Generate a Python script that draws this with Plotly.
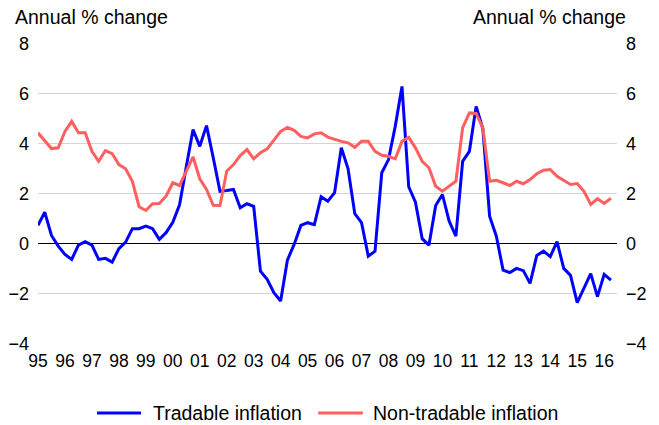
import plotly.graph_objects as go

# quarterly, 1995Q1 to 2016Q2
quarters = [f"{y}Q{q}" for y in range(1995, 2017) for q in range(1, 5)][:86]

tradable = [
    0.73, 1.25, 0.32, -0.11, -0.44, -0.64, -0.07, 0.07, -0.07, -0.64,
    -0.60, -0.75, -0.21, 0.05, 0.59, 0.59, 0.69, 0.59, 0.16, 0.43,
    0.85, 1.55, 3.07, 4.56, 3.89, 4.72, 3.43, 2.09, 2.12, 2.16,
    1.43, 1.59, 1.49, -1.11, -1.44, -1.97, -2.31, -0.67, -0.04, 0.72,
    0.83, 0.75, 1.87, 1.69, 2.03, 3.83, 2.99, 1.19, 0.83, -0.51,
    -0.31, 2.83, 3.36, 4.69, 6.29, 2.27, 1.65, 0.19, -0.07, 1.52,
    1.96, 0.89, 0.29, 3.29, 3.69, 5.49, 4.59, 1.09, 0.29, -1.07,
    -1.17, -1.00, -1.09, -1.60, -0.48, -0.31, -0.53, 0.07, -1.00, -1.28,
    -2.37, -1.77, -1.21, -2.13, -1.24, -1.47,
]

non_tradable = [
    4.43, 4.13, 3.80, 3.83, 4.49, 4.89, 4.43, 4.43, 3.69, 3.29,
    3.72, 3.60, 3.16, 2.99, 2.49, 1.47, 1.32, 1.59, 1.60, 1.89,
    2.43, 2.32, 2.89, 3.47, 2.59, 2.16, 1.53, 1.52, 2.89, 3.16,
    3.52, 3.76, 3.39, 3.63, 3.79, 4.16, 4.49, 4.65, 4.53, 4.29,
    4.23, 4.39, 4.43, 4.26, 4.16, 4.09, 4.03, 3.85, 4.09, 4.09,
    3.69, 3.53, 3.49, 3.39, 4.09, 4.25, 3.83, 3.29, 3.03, 2.29,
    2.09, 2.29, 2.49, 4.63, 5.23, 5.21, 4.63, 2.49, 2.53, 2.43,
    2.32, 2.49, 2.39, 2.56, 2.79, 2.93, 2.96, 2.69, 2.52, 2.36,
    2.40, 2.09, 1.56, 1.79, 1.60, 1.81,
]

year_ticks = quarters[::4]
year_labels = ["95", "96", "97", "98", "99", "00", "01", "02", "03", "04", "05",
               "06", "07", "08", "09", "10", "11", "12", "13", "14", "15", "16"]

y_ticks = [-4, -2, 0, 2, 4, 6, 8]

series_names = ["Tradable inflation", "Non-tradable inflation"]
series_colors = ["#0000FF", "#FF5F5F"]

font_name = "Liberation Sans, Arial, sans-serif"

fig = go.Figure()

fig.add_trace(go.Scatter(
    x=quarters,
    y=tradable,
    mode="lines",
    name=series_names[0],
    line={"color": series_colors[0], "width": 3}
))

fig.add_trace(go.Scatter(
    x=quarters,
    y=non_tradable,
    mode="lines",
    name=series_names[1],
    line={"color": series_colors[1], "width": 3},
    yaxis="y2"
))

# legend drawn by hand below the plot: line sample, then label
legend_y = -0.229
legend_slots = [(0.102, 0.178, 0.195), (0.484, 0.561, 0.575)]

shapes = []
annotations = []
for name, color, (x0, x1, xt) in zip(series_names, series_colors, legend_slots):
    shapes.append({
        "type": "line",
        "xref": "paper", "yref": "paper",
        "x0": x0, "x1": x1, "y0": legend_y, "y1": legend_y,
        "line": {"color": color, "width": 3}
    })
    annotations.append({
        "text": name,
        "xref": "paper", "yref": "paper",
        "x": xt, "y": legend_y,
        "xanchor": "left", "yanchor": "middle",
        "showarrow": False,
        "font": {"size": 19.5}
    })

annotations.append({
    "text": "Annual % change",
    "xref": "paper", "yref": "paper",
    "x": -0.044, "y": 1.0,
    "xanchor": "left", "yanchor": "bottom",
    "yshift": 13,
    "showarrow": False,
    "font": {"size": 19.5}
})
annotations.append({
    "text": "Annual % change",
    "xref": "paper", "yref": "paper",
    "x": 1.019, "y": 1.0,
    "xanchor": "right", "yanchor": "bottom",
    "yshift": 13,
    "showarrow": False,
    "font": {"size": 19.5}
})

fig.update_layout(
    width=659,
    height=425,
    margin={"l": 38, "r": 42, "t": 43, "b": 81, "autoexpand": False},
    paper_bgcolor="white",
    plot_bgcolor="white",
    font={"family": font_name, "size": 18, "color": "black"},
    showlegend=False,
    xaxis={
        "type": "category",
        "range": [0, 85.9],
        "tickmode": "array",
        "tickvals": year_ticks,
        "ticktext": year_labels,
        "tickfont": {"size": 17.5},
        "showgrid": False,
        "zeroline": False,
        "showline": False,
        "ticks": "",
        "ticklabelstandoff": 4,
        "tickangle": 0
    },
    yaxis={
        "range": [-4.03, 8.03],
        "tickvals": y_ticks,
        "showgrid": True,
        "gridcolor": "#D4D4D4",
        "gridwidth": 1,
        "zeroline": True,
        "zerolinecolor": "black",
        "zerolinewidth": 1,
        "showline": False,
        "ticks": "",
        "ticklabelstandoff": 8
    },
    yaxis2={
        "range": [-4.03, 8.03],
        "tickvals": y_ticks,
        "overlaying": "y",
        "side": "right",
        "showgrid": False,
        "zeroline": False,
        "showline": False,
        "ticks": "",
        "ticklabelstandoff": 8
    },
    shapes=shapes,
    annotations=annotations
)

# page body has a default 8px margin; drop it so the chart sits at the corner
fig.write_html(
    "out.html",
    config={"displayModeBar": False},
    post_script="document.body.style.margin = '0';"
)
